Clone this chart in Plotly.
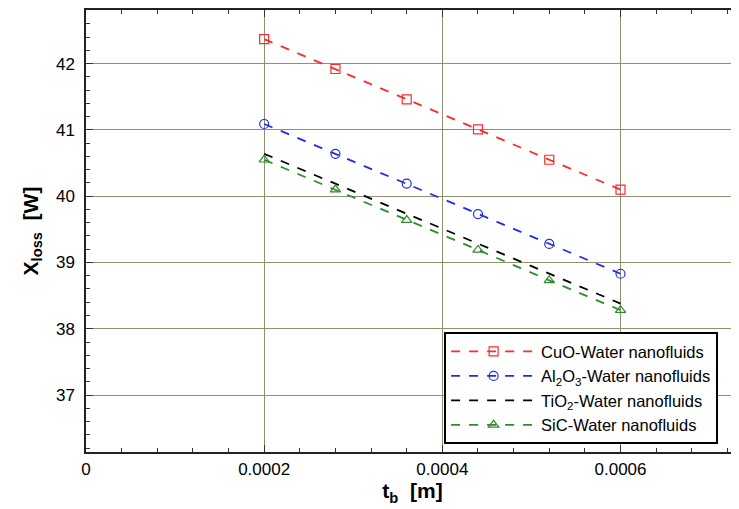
import plotly.graph_objects as go

tb = [0.0002, 0.00028, 0.00036, 0.00044, 0.00052, 0.0006]
cuo = [42.37, 41.92, 41.46, 41.01, 40.55, 40.10]
al2o3 = [41.09, 40.64, 40.19, 39.73, 39.28, 38.83]
tio2 = [40.64, 40.19, 39.74, 39.28, 38.83, 38.38]
sic = [40.55, 40.10, 39.64, 39.19, 38.73, 38.28]

x_ticks = [0, 0.0002, 0.0004, 0.0006]
x_ticklabels = ["0", "0.0002", "0.0004", "0.0006"]
y_ticks = [37, 38, 39, 40, 41, 42]

fig = go.Figure()
fig.add_trace(go.Scatter(x=tb, y=cuo, mode="lines+markers", name="CuO-Water nanofluids",
                         line=dict(color="#ff2a2a", dash="dash", width=1.8),
                         marker=dict(symbol="square-open", size=9, color="#ff2a2a", line=dict(width=1.2))))
fig.add_trace(go.Scatter(x=tb, y=al2o3, mode="lines+markers", name="Al<sub>2</sub>O<sub>3</sub>-Water nanofluids",
                         line=dict(color="#1f2fe0", dash="dash", width=1.8),
                         marker=dict(symbol="circle-open", size=9, color="#1f2fe0", line=dict(width=1.2))))
fig.add_trace(go.Scatter(x=tb, y=tio2, mode="lines", name="TiO<sub>2</sub>-Water nanofluids",
                         line=dict(color="#000000", dash="dash", width=1.8)))
fig.add_trace(go.Scatter(x=tb, y=sic, mode="lines+markers", name="SiC-Water nanofluids",
                         line=dict(color="#2e8b2e", dash="dash", width=1.8),
                         marker=dict(symbol="triangle-up-open", size=9, color="#2e8b2e", line=dict(width=1.2))))

font = "Liberation Sans, Arial, sans-serif"
fig.update_layout(
    width=731, height=501,
    margin=dict(l=78, r=0, t=2, b=57, autoexpand=False),
    paper_bgcolor="white", plot_bgcolor="white",
    font=dict(family=font, color="black"),
    showlegend=True,
    legend=dict(x=0.968, y=0.271, xanchor="right", yanchor="top",
                bordercolor="black", borderwidth=2, bgcolor="white",
                font=dict(size=16.5, family=font), tracegroupgap=0, itemwidth=85),
    xaxis=dict(range=[0, 0.000733], tickvals=x_ticks, ticktext=x_ticklabels, automargin=False,
               tickfont=dict(size=17), ticks="inside", ticklen=7, tickcolor="#333",
               ticklabelstandoff=1,
               minor=dict(dtick=0.00004, ticks="inside", ticklen=4, tickcolor="#333", showgrid=False),
               showline=True, linecolor="#222", linewidth=1.5, mirror="ticks",
               showgrid=True, gridcolor="#8f8f72", gridwidth=1, zeroline=False,
               title=dict(text="<b>t<sub>b</sub>  [m]</b>", font=dict(size=21), standoff=0)),
    yaxis=dict(range=[36.14, 42.81], tickvals=y_ticks, automargin=False,
               tickfont=dict(size=17), ticks="inside", ticklen=7, tickcolor="#333",
               ticklabelstandoff=6,
               minor=dict(dtick=0.2, ticks="inside", ticklen=4, tickcolor="#333", showgrid=False),
               showline=True, linecolor="#222", linewidth=1.5, mirror="ticks",
               showgrid=True, gridcolor="#8f8f72", gridwidth=1, zeroline=False,
               title=dict(text="<b>X<sub>loss</sub>  [W]</b>", font=dict(size=21), standoff=12)),
)
fig.write_html("out.html")
